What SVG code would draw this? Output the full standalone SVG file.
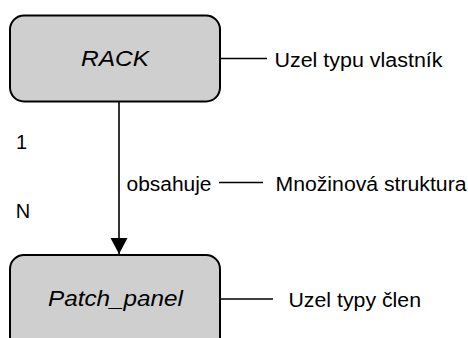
<svg xmlns="http://www.w3.org/2000/svg" width="468" height="338" viewBox="0 0 468 338">
  <style>
    .box { fill: #cfcfcf; stroke: #000; stroke-width: 2; }
    .link { stroke: #000; stroke-width: 1.6; fill: none; }
    .name { font-family: "Liberation Sans", Arial, sans-serif; font-style: italic; font-size: 22px; fill: #000; }
    .lbl { font-family: "Liberation Sans", Arial, sans-serif; font-size: 20px; fill: #000; }
  </style>
  <defs>
    <marker id="arrow" markerUnits="userSpaceOnUse" markerWidth="18" markerHeight="18" refX="16" refY="8.5" orient="auto">
      <path d="M0,0 L16,8.5 L0,17 Z" fill="#000"/>
    </marker>
  </defs>

  <rect width="468" height="338" fill="#fff"/>

  <!-- connectors -->
  <g id="connectors">
    <line class="link" x1="119" y1="102" x2="119" y2="254" marker-end="url(#arrow)"/>
    <line class="link" x1="220" y1="58.5" x2="267" y2="58.5"/>
    <line class="link" x1="219" y1="182.5" x2="263" y2="182.5"/>
    <line class="link" x1="220" y1="299" x2="273" y2="299"/>
    <text class="lbl" x="126.5" y="190.5" textLength="85" lengthAdjust="spacingAndGlyphs">obsahuje</text>
    <text class="lbl" x="16" y="149.3">1</text>
    <text class="lbl" x="15.8" y="218.3">N</text>
  </g>

  <!-- owner node -->
  <g id="rack">
    <rect class="box" x="10" y="15.5" width="210" height="86" rx="14" ry="14"/>
    <text class="name" x="81" y="65.7" textLength="68" lengthAdjust="spacingAndGlyphs">RACK</text>
  </g>

  <!-- member node -->
  <g id="patch_panel">
    <rect class="box" x="10" y="255" width="210" height="100" rx="14" ry="14"/>
    <text class="name" x="48" y="306" textLength="135" lengthAdjust="spacingAndGlyphs">Patch_panel</text>
  </g>

  <!-- annotations -->
  <g id="notes">
    <text class="lbl" x="274.5" y="66.7" textLength="168" lengthAdjust="spacingAndGlyphs">Uzel typu vlastník</text>
    <text class="lbl" x="275.5" y="191" textLength="191" lengthAdjust="spacingAndGlyphs">Množinová struktura</text>
    <text class="lbl" x="288.5" y="306.7" textLength="132.5" lengthAdjust="spacingAndGlyphs">Uzel typy člen</text>
  </g>
</svg>
